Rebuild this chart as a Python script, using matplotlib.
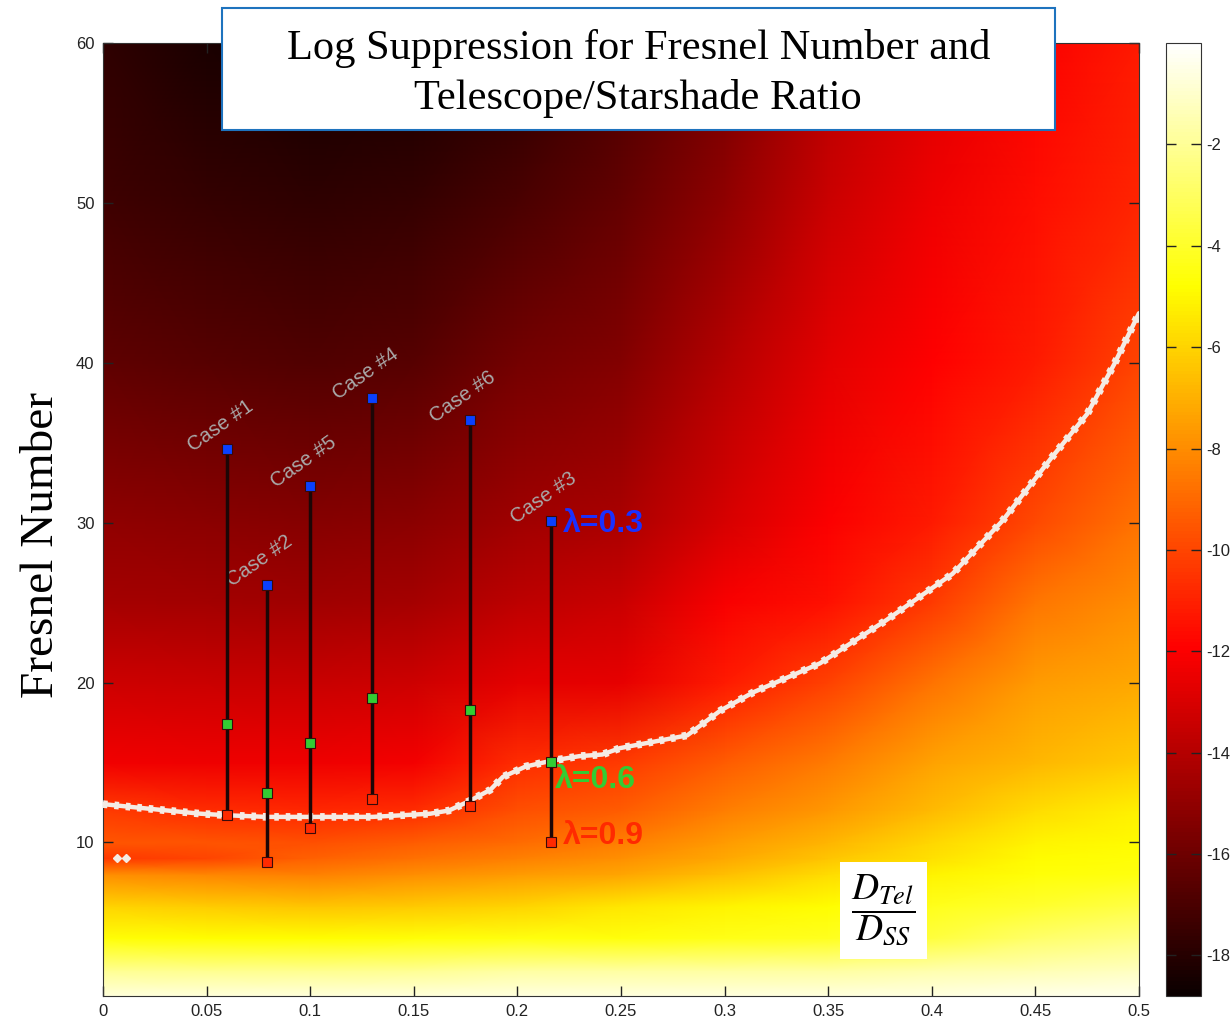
import numpy as np
import matplotlib
matplotlib.use("Agg")
import matplotlib.pyplot as plt
from matplotlib.patches import Rectangle

plt.rcParams["axes.unicode_minus"] = False
plt.rcParams["mathtext.fontset"] = "stix"

# grid (log10 suppression)
ratio_grid = [0, 0.05, 0.1, 0.15, 0.2, 0.25, 0.3, 0.35, 0.4, 0.45, 0.5]
fresnel_grid = [0, 2, 4, 6, 8, 9, 10, 12, 15, 20, 25, 30, 40, 50, 60]
log_supp = [
    [-0.3, -0.3, -0.3, -0.3, -0.3, -0.3, -0.3, -0.3, -0.3, -0.2, -0.2],             # 0
    [-2.1, -2.2, -2.2, -2.1, -1.8, -1.8, -1.8, -1.8, -1.6, -1.4, -1.2],             # 2
    [-4.7, -4.8, -4.8, -4.7, -4.5, -4.6, -4.4, -4.2, -3.6, -2.8, -2.4],             # 4
    [-6.0, -6.2, -6.4, -6.3, -6.0, -5.5, -5.1, -4.8, -4.3, -3.9, -3.5],             # 6
    [-8.0, -8.2, -8.3, -8.0, -7.6, -7.3, -6.6, -5.8, -5.1, -4.7, -4.5],             # 8
    [-10.4, -10.0, -9.2, -8.8, -8.3, -7.9, -7.2, -6.4, -5.6, -4.9, -4.7],           # 9
    [-9.5, -9.6, -9.7, -9.4, -8.9, -8.4, -7.6, -6.9, -5.9, -5.1, -4.9],             # 10
    [-10.3, -10.7, -10.8, -10.7, -9.7, -9.4, -8.4, -7.7, -6.7, -5.8, -5.2],         # 12
    [-12.3, -12.4, -12.4, -12.2, -10.7, -10.3, -9.4, -8.5, -7.4, -6.8, -6.3],       # 15
    [-13.3, -13.4, -13.5, -13.3, -12.7, -12.6, -11.2, -10.1, -8.7, -7.6, -7.2],     # 20
    [-14.4, -14.5, -14.6, -14.4, -13.8, -13.4, -12.1, -11.5, -10.3, -8.6, -8.0],    # 25
    [-15.0, -15.2, -15.3, -15.2, -14.6, -14.3, -13.0, -12.0, -11.2, -9.9, -8.7],    # 30
    [-16.4, -16.6, -16.8, -16.6, -15.8, -15.4, -14.0, -12.7, -11.9, -11.2, -10.0],  # 40
    [-17.3, -17.6, -17.7, -17.6, -17.0, -16.3, -15.0, -13.4, -12.4, -11.6, -10.9],  # 50
    [-17.7, -18.3, -18.6, -18.5, -18.0, -17.0, -15.8, -14.0, -12.9, -12.0, -11.2],  # 60
]

# white 1e-10 contour
contour_x = [0, 0.023, 0.047, 0.06, 0.079, 0.1, 0.13, 0.158, 0.167, 0.177, 0.187,
             0.193, 0.204, 0.216, 0.23, 0.241, 0.2495, 0.282, 0.298, 0.314, 0.346,
             0.378, 0.41, 0.434, 0.458, 0.475, 0.488, 0.5]
contour_y = [12.4, 12.1, 11.8, 11.7, 11.6, 11.6, 11.6, 11.8, 12.0, 12.6, 13.3,
             14.1, 14.75, 15.1, 15.4, 15.5, 15.9, 16.7, 18.25, 19.4, 21.2,
             23.9, 26.8, 30.1, 34.1, 36.8, 39.9, 43.1]
blip_x = [0.007, 0.011]
blip_y = [9.05, 9.05]

# cases
case_names = ["Case #1", "Case #2", "Case #5", "Case #4", "Case #6", "Case #3"]
case_ratio = [0.06, 0.079, 0.1, 0.13, 0.177, 0.216]
fn_03 = [34.6, 26.1, 32.3, 37.8, 36.4, 30.1]
fn_06 = [17.4, 13.1, 16.25, 19.06, 18.3, 15.06]
fn_09 = [11.7, 8.8, 10.9, 12.75, 12.3, 10.06]

fig = plt.figure(figsize=(12.3, 10.19), dpi=100)
ax = fig.add_axes([0.0837, 0.0226, 0.8423, 0.9352])
cax = fig.add_axes([0.948, 0.0226, 0.0285, 0.9352])

X, Y = np.meshgrid(ratio_grid, fresnel_grid)
mesh = ax.pcolormesh(X, Y, np.array(log_supp), cmap="hot", shading="gouraud",
                     vmin=-18.8, vmax=0, rasterized=True)

ax.plot(contour_x, contour_y, color="#f4ebe4", lw=3.2, solid_capstyle="round", zorder=3)
ax.plot(contour_x, contour_y, color="#f4ebe4", lw=5.5, ls=(0, (0.6, 0.9)), zorder=3)
ax.plot(blip_x, blip_y, "D", color="#f4ebe4", ms=4, zorder=3)

sq = dict(marker="s", ms=7, mec="#3a0a0a", mew=0.8, ls="none", zorder=5)
for i in range(len(case_names)):
    ax.plot([case_ratio[i], case_ratio[i]], [fn_09[i], fn_03[i]], color="#1c0606", lw=2.5, zorder=4)
    ax.plot(case_ratio[i], fn_03[i], color="#0a40ff", **sq)
    ax.plot(case_ratio[i], fn_06[i], color="#33cc33", **sq)
    ax.plot(case_ratio[i], fn_09[i], color="#ff2a00", **sq)
    ax.annotate(case_names[i], (case_ratio[i], fn_03[i]), xytext=(-5, 17),
                textcoords="offset points", rotation=35, ha="center", va="center",
                color="#a9a9a9", fontsize=14.5, family=["Liberation Sans", "DejaVu Sans"])

lam_font = dict(fontsize=23, fontweight="bold", family=["Liberation Sans", "DejaVu Sans"],
                ha="left", va="center")
ax.text(0.222, 29.9, "λ=0.3", color="#1a30ff", **lam_font)
ax.text(0.218, 13.9, "λ=0.6", color="#33cc33", **lam_font)
ax.text(0.222, 10.4, "λ=0.9", color="#ff2a00", **lam_font)

ax.text(0.3765, 5.75, r"$\dfrac{D_{Tel}}{D_{SS}}$", fontsize=27, ha="center", va="center",
        bbox=dict(boxstyle="square,pad=0.3", fc="white", ec="none"), zorder=6)

ax.set_xlim(0, 0.5)
ax.set_ylim(0.4, 60)
ax.set_xticks([0, 0.05, 0.1, 0.15, 0.2, 0.25, 0.3, 0.35, 0.4, 0.45, 0.5])
ax.set_xticklabels(["0", "0.05", "0.1", "0.15", "0.2", "0.25", "0.3", "0.35", "0.4", "0.45", "0.5"])
ax.set_yticks([10, 20, 30, 40, 50, 60])
tick_font = ["Liberation Sans Narrow", "Liberation Sans", "DejaVu Sans"]
for lab in ax.get_xticklabels() + ax.get_yticklabels():
    lab.set_family(tick_font)
    lab.set_fontsize(12)
ax.tick_params(direction="in", length=7, width=1, top=True, right=True, colors="#222222", pad=6)
for s in ax.spines.values():
    s.set_color("#333333")
ax.set_ylabel("Fresnel Number", fontsize=34, family=["Liberation Serif", "DejaVu Serif"])
ax.yaxis.set_label_coords(-0.039, 0.473)

cb = fig.colorbar(mesh, cax=cax, ticks=[-2, -4, -6, -8, -10, -12, -14, -16, -18])
cax.tick_params(direction="in", length=7, width=1, left=True, right=True, colors="#222222", pad=4)
for lab in cax.get_yticklabels():
    lab.set_family(tick_font)
    lab.set_fontsize(12)
cb.outline.set_edgecolor("#333333")

fig.patches.append(Rectangle((0.1805, 0.8724), 0.6772, 0.1197, transform=fig.transFigure,
                             facecolor="white", edgecolor="#1e73be", lw=1.5, zorder=10))
fig.text(0.519, 0.9279, "Log Suppression for Fresnel Number and\nTelescope/Starshade Ratio",
         ha="center", va="center", fontsize=30.5, linespacing=1.36,
         family=["Liberation Serif", "DejaVu Serif"], zorder=11)

fig.savefig("out.png", dpi=100)
